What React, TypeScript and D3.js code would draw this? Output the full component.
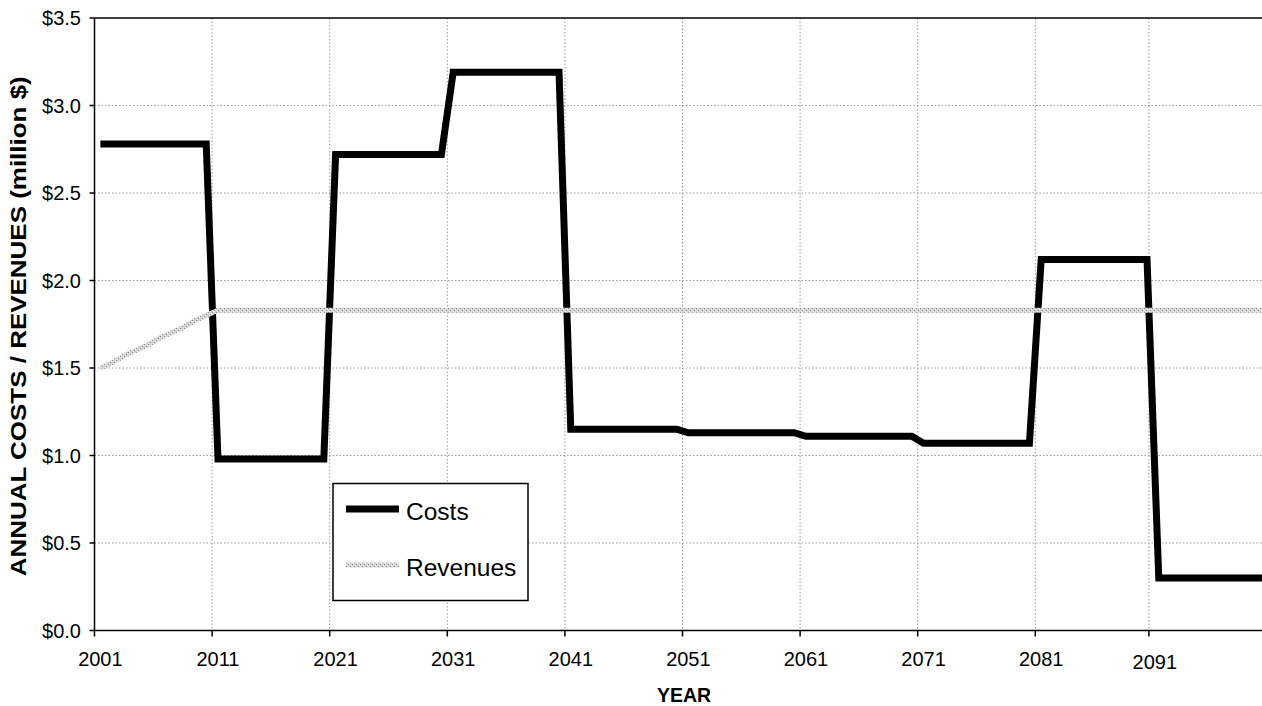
import React from "react";
import * as d3 from "d3";

// Annual series, one value per year 2001–2100 (million $)
const years: number[] = d3.range(2001, 2101);

const costs: number[] = [
  2.78, 2.78, 2.78, 2.78, 2.78, 2.78, 2.78, 2.78, 2.78, 2.78,
  0.98, 0.98, 0.98, 0.98, 0.98, 0.98, 0.98, 0.98, 0.98, 0.98,
  2.72, 2.72, 2.72, 2.72, 2.72, 2.72, 2.72, 2.72, 2.72, 2.72,
  3.19, 3.19, 3.19, 3.19, 3.19, 3.19, 3.19, 3.19, 3.19, 3.19,
  1.15, 1.15, 1.15, 1.15, 1.15, 1.15, 1.15, 1.15, 1.15, 1.15,
  1.13, 1.13, 1.13, 1.13, 1.13, 1.13, 1.13, 1.13, 1.13, 1.13,
  1.11, 1.11, 1.11, 1.11, 1.11, 1.11, 1.11, 1.11, 1.11, 1.11,
  1.07, 1.07, 1.07, 1.07, 1.07, 1.07, 1.07, 1.07, 1.07, 1.07,
  2.12, 2.12, 2.12, 2.12, 2.12, 2.12, 2.12, 2.12, 2.12, 2.12,
  0.3, 0.3, 0.3, 0.3, 0.3, 0.3, 0.3, 0.3, 0.3, 0.3,
];

const revenues: number[] = [
  1.5, 1.53, 1.57, 1.6, 1.63, 1.67, 1.7, 1.73, 1.77, 1.8,
  1.83, 1.83, 1.83, 1.83, 1.83, 1.83, 1.83, 1.83, 1.83, 1.83,
  1.83, 1.83, 1.83, 1.83, 1.83, 1.83, 1.83, 1.83, 1.83, 1.83,
  1.83, 1.83, 1.83, 1.83, 1.83, 1.83, 1.83, 1.83, 1.83, 1.83,
  1.83, 1.83, 1.83, 1.83, 1.83, 1.83, 1.83, 1.83, 1.83, 1.83,
  1.83, 1.83, 1.83, 1.83, 1.83, 1.83, 1.83, 1.83, 1.83, 1.83,
  1.83, 1.83, 1.83, 1.83, 1.83, 1.83, 1.83, 1.83, 1.83, 1.83,
  1.83, 1.83, 1.83, 1.83, 1.83, 1.83, 1.83, 1.83, 1.83, 1.83,
  1.83, 1.83, 1.83, 1.83, 1.83, 1.83, 1.83, 1.83, 1.83, 1.83,
  1.83, 1.83, 1.83, 1.83, 1.83, 1.83, 1.83, 1.83, 1.83, 1.83,
];

const tickYears: number[] = [2001, 2011, 2021, 2031, 2041, 2051, 2061, 2071, 2081, 2091];
const yTicks: number[] = [0, 0.5, 1.0, 1.5, 2.0, 2.5, 3.0, 3.5];

const seriesNames = ["Costs", "Revenues"];
const xTitle = "YEAR";
const yTitle = "ANNUAL COSTS / REVENUES (million $)";

const W = 1262;
const H = 706;
const plot = { left: 94.5, top: 18, bottom: 630.5, right: 1270.5 };
const FONT = "'Liberation Sans', Arial, sans-serif";

// small per-label nudges on the year axis
const labelNudge: Record<number, { dx: number; dy: number }> = {
  2091: { dx: -4, dy: 3 },
};

export default function App() {
  const x = d3
    .scaleBand<number>()
    .domain(years)
    .range([plot.left, plot.right])
    .paddingInner(0)
    .paddingOuter(0);
  const bw = x.bandwidth();
  const cx = (yr: number) => (x(yr) as number) + bw / 2;

  const y = d3.scaleLinear().domain([0, 3.5]).range([plot.bottom, plot.top]);

  const line = d3
    .line<number>()
    .x((_, i) => cx(years[i]))
    .y((v) => y(v));

  const costPath = line(costs) || "";
  const revPath = line(revenues) || "";

  const fmt = (v: number) => "$" + d3.format(".1f")(v);

  const legend = { x: 333, y: 483.5, w: 195, h: 117 };

  return (
    <svg
      width={W}
      height={H}
      style={{ position: "absolute", left: 0, top: 0, background: "#fff" }}
      fontFamily={FONT}
    >
      <defs>
        <pattern id="revTex" patternUnits="userSpaceOnUse" width="4" height="4">
          <rect width="4" height="4" fill="#d6d6d6" />
          <rect x="0" y="0" width="1" height="1" fill="#8c8c8c" />
          <rect x="2" y="2" width="1" height="1" fill="#8c8c8c" />
          <rect x="1" y="3" width="1" height="1" fill="#f4f4f4" />
          <rect x="3" y="1" width="1" height="1" fill="#f4f4f4" />
        </pattern>
        <clipPath id="plotClip">
          <rect x={plot.left} y={plot.top - 5} width={plot.right - plot.left} height={plot.bottom - plot.top + 5} />
        </clipPath>
      </defs>

      {/* horizontal grid */}
      {yTicks
        .filter((t) => t > 0 && t < 3.5)
        .map((t) => (
          <line
            key={"hg" + t}
            x1={plot.left}
            x2={W}
            y1={y(t)}
            y2={y(t)}
            stroke="#9a9a9a"
            strokeWidth={1}
            strokeDasharray="1.5,2"
          />
        ))}

      {/* vertical grid */}
      {tickYears
        .filter((t) => t !== 2001)
        .map((t) => {
          const gx = (x(t) as number) + (labelNudge[t]?.dx ?? 0);
          return (
            <line
              key={"vg" + t}
              x1={gx}
              x2={gx}
              y1={plot.top}
              y2={plot.bottom}
              stroke="#9a9a9a"
              strokeWidth={1}
              strokeDasharray="1.5,2"
            />
          );
        })}

      {/* series */}
      <g clipPath="url(#plotClip)">
        <path d={costPath} fill="none" stroke="#000" strokeWidth={7} strokeLinejoin="miter" strokeLinecap="butt" />
        <path d={revPath} fill="none" stroke="url(#revTex)" strokeWidth={5} strokeLinejoin="miter" strokeLinecap="butt" />
      </g>

      {/* plot frame */}
      <line x1={plot.left} x2={W} y1={plot.top} y2={plot.top} stroke="#000" strokeWidth={1.5} />
      <line x1={plot.left} x2={plot.left} y1={plot.top} y2={plot.bottom} stroke="#000" strokeWidth={1.5} />
      <line x1={plot.left} x2={W} y1={plot.bottom} y2={plot.bottom} stroke="#000" strokeWidth={1.5} />

      {/* y axis ticks and labels */}
      {yTicks.map((t) => (
        <g key={"yt" + t}>
          <line x1={plot.left - 5} x2={plot.left} y1={y(t)} y2={y(t)} stroke="#000" strokeWidth={1.5} />
          <text
            x={81}
            y={y(t)}
            textAnchor="end"
            dominantBaseline="central"
            fontSize={20}
            fill="#000"
          >
            {fmt(t)}
          </text>
        </g>
      ))}

      {/* x axis ticks and labels */}
      {tickYears.map((t) => {
        const n = labelNudge[t] ?? { dx: 0, dy: 0 };
        const tx = (x(t) as number) + n.dx;
        return (
          <g key={"xt" + t}>
            <line x1={tx} x2={tx} y1={plot.bottom} y2={plot.bottom + 6} stroke="#000" strokeWidth={1.5} />
            <text x={cx(t) + n.dx} y={666 + n.dy} textAnchor="middle" fontSize={20} fill="#000">
              {t}
            </text>
          </g>
        );
      })}

      {/* axis titles */}
      <text x={684} y={701.5} textAnchor="middle" fontSize={19.5} fontWeight="bold" fill="#000">
        {xTitle}
      </text>
      <text
        transform={`translate(26, ${(plot.top + plot.bottom) / 2 + 2}) rotate(-90)`}
        textAnchor="middle"
        fontSize={22}
        fontWeight="bold"
        fill="#000"
        textLength={500}
        lengthAdjust="spacingAndGlyphs"
      >
        {yTitle}
      </text>

      {/* legend */}
      <rect x={legend.x} y={legend.y} width={legend.w} height={legend.h} fill="#fff" stroke="#000" strokeWidth={1.5} />
      <line x1={346} x2={399} y1={509} y2={509} stroke="#000" strokeWidth={7} />
      <text x={406} y={519.5} fontSize={24.5} fill="#000">
        {seriesNames[0]}
      </text>
      <line x1={346} x2={399} y1={565} y2={565} stroke="url(#revTex)" strokeWidth={5} />
      <text x={406} y={576} fontSize={24.5} fill="#000">
        {seriesNames[1]}
      </text>
    </svg>
  );
}
